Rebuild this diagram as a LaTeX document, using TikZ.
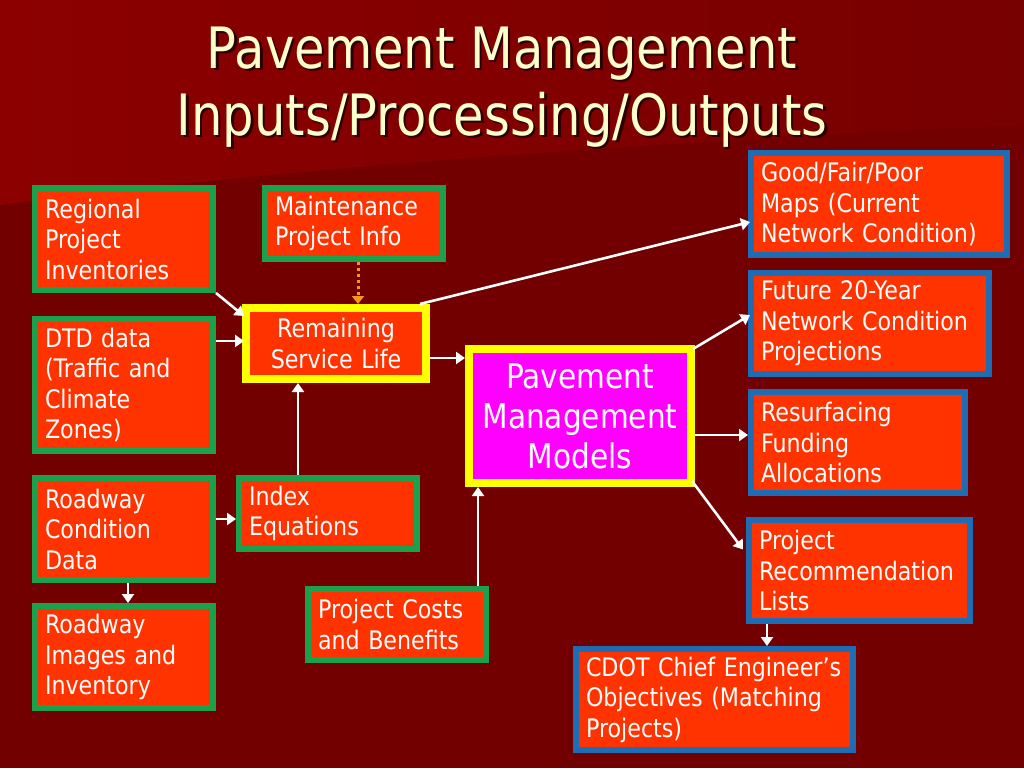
\documentclass[tikz,border=0pt]{standalone}
\usepackage{fontspec}
\setmainfont{DejaVu Sans}
\newfontfamily\tah[FakeStretch=0.87]{DejaVu Sans}
\usetikzlibrary{arrows.meta,calc}
\definecolor{bgdark}{HTML}{720000}
\definecolor{bglight}{HTML}{8C0000}
\definecolor{bgmid}{HTML}{770000}
\definecolor{boxfill}{HTML}{FF3300}
\definecolor{gborder}{HTML}{1BA04C}
\definecolor{bborder}{HTML}{1E6CB4}
\definecolor{yborder}{HTML}{FFFF00}
\definecolor{magbox}{HTML}{FF00FF}
\definecolor{titlecol}{HTML}{FFFFCC}
\definecolor{shadowcol}{HTML}{2A0000}
\definecolor{dotcol}{HTML}{F7941D}
\newcommand{\shtext}[1]{\makebox[0pt][l]{\kern2.5pt\raisebox{-2.5pt}{\color{shadowcol}#1}}#1}
\tikzset{
  boxbase/.style={fill=boxfill, text=white, font=\tah\fontsize{25.5}{30.5}\selectfont,
    align=left, inner xsep=10pt, inner ysep=0pt, anchor=north west},
  gbox/.style={boxbase, draw=gborder, line width=6pt, outer sep=3pt},
  bbox/.style={boxbase, draw=bborder, line width=6pt, outer sep=3pt},
  ybox/.style={boxbase, draw=yborder, line width=8pt, outer sep=4pt, align=center, inner xsep=0pt},
  ttl/.style={font=\tah\fontsize{57}{67}\selectfont, text=titlecol, anchor=base, inner sep=0pt},
  arr/.style={draw=white, line width=2.6pt, -{Triangle[length=9pt,width=12pt]}},
  dotarr/.style={draw=dotcol, line width=3pt, dash pattern=on 3pt off 3pt,
    -{Triangle[length=8pt,width=12pt]}}
}
\begin{document}
\begin{tikzpicture}[x=1pt,y=-1pt]
\useasboundingbox (0,0) rectangle (1024,768);
% background
\fill[bgdark] (0,0) rectangle (1024,768);
\shade[left color=bglight, right color=bgmid]
  (0,0) -- (1024,0) -- (1024,125) .. controls (700,140) and (300,165) .. (0,205) -- cycle;
% title
\node[ttl] (t1) at (502,68) {\shtext{Pavement Management}};
\node[ttl] (t2) at (502,135) {\shtext{Inputs/Processing/Outputs}};
% input boxes
\node[gbox, text width=158pt, minimum height=102pt] (reg) at (32,185) {Regional\\Project\\Inventories};
\node[gbox, text width=158pt, minimum height=71pt] (mai) at (262,185) {Maintenance\\Project~Info};
\node[gbox, text width=158pt, minimum height=132pt] (dtd) at (32,316) {DTD~data\\(Traffic~and\\Climate\\Zones)};
\node[gbox, text width=158pt, minimum height=102pt] (rcd) at (32,475) {Roadway\\Condition\\Data};
\node[gbox, text width=158pt, minimum height=71pt] (idx) at (236,475) {Index\\Equations};
\node[gbox, text width=158pt, minimum height=102pt] (rim) at (32,603) {Roadway\\Images~and\\Inventory};
\node[gbox, text width=158pt, minimum height=71pt] (pcb) at (305,586) {Project~Costs\\and~Benefits};
% processing
\node[ybox, text width=180pt, minimum height=71pt] (rem) at (242,304) {Remaining\\Service~Life};
\node[ybox, fill=magbox, text width=222pt, minimum height=134pt,
  font=\tah\fontsize{34}{40}\selectfont] (pav) at (465,345) {Pavement\\Management\\Models};
% outputs
\node[bbox, text width=236pt, minimum height=102pt] (gfp) at (748,150) {Good/Fair/Poor\\Maps~(Current\\Network~Condition)};
\node[bbox, text width=218pt, minimum height=101pt] (fut) at (748,270) {Future~\mbox{20-Year}\\Network~Condition\\Projections};
\node[bbox, text width=194pt, minimum height=101pt] (res) at (748,389) {Resurfacing\\Funding\\Allocations};
\node[bbox, text width=201pt, minimum height=101pt] (prl) at (746,517) {Project\\Recommendation\\Lists};
\node[bbox, text width=257pt, minimum height=101pt] (cdot) at (573,646) {CDOT~Chief~Engineer’s\\Objectives~(Matching\\Projects)};
% connectors
\draw[arr] (reg.south east) -- ($(rem.north west)+(2,12)$);
\coordinate (a2) at ($(dtd.north east)+(0,25)$);
\draw[arr] (a2) -- ($(a2 -| rem.west)+(2,0)$);
\coordinate (a3) at ($(rem.north east)+(0,54)$);
\draw[arr] (a3) -- (a3 -| pav.west);
\coordinate (a4) at ($(mai.south)+(4,0)$);
\draw[dotarr] (a4) -- (a4 |- rem.north);
\draw[arr] ($(rem.north east)+(-10,0)$) -- ($(gfp.west)+(2,18)$);
\coordinate (a6) at ($(idx.north west)+(62,0)$);
\draw[arr] (a6) -- (a6 |- rem.south);
\coordinate (a7) at ($(rcd.north east)+(0,44)$);
\draw[arr] (a7) -- (a7 -| idx.west);
\coordinate (a8) at ($(rcd.south)+(4,0)$);
\draw[arr] (a8) -- (a8 |- rim.north);
\coordinate (a9) at ($(pcb.north east)+(-11,0)$);
\draw[arr] (a9) -- (a9 |- pav.south);
\draw[arr] ($(pav.north east)+(-2,4)$) -- ($(fut.west)+(2,-8.5)$);
\coordinate (a11) at ($(pav.east)+(0,19)$);
\draw[arr] (a11) -- (a11 -| res.west);
\draw[arr] ($(pav.south east)+(-3,-6)$) -- ($(prl.west)+(-3,-21)$);
\coordinate (a13) at ($(prl.south west)+(21,0)$);
\draw[arr] (a13) -- (a13 |- cdot.north);
\end{tikzpicture}
\end{document}
